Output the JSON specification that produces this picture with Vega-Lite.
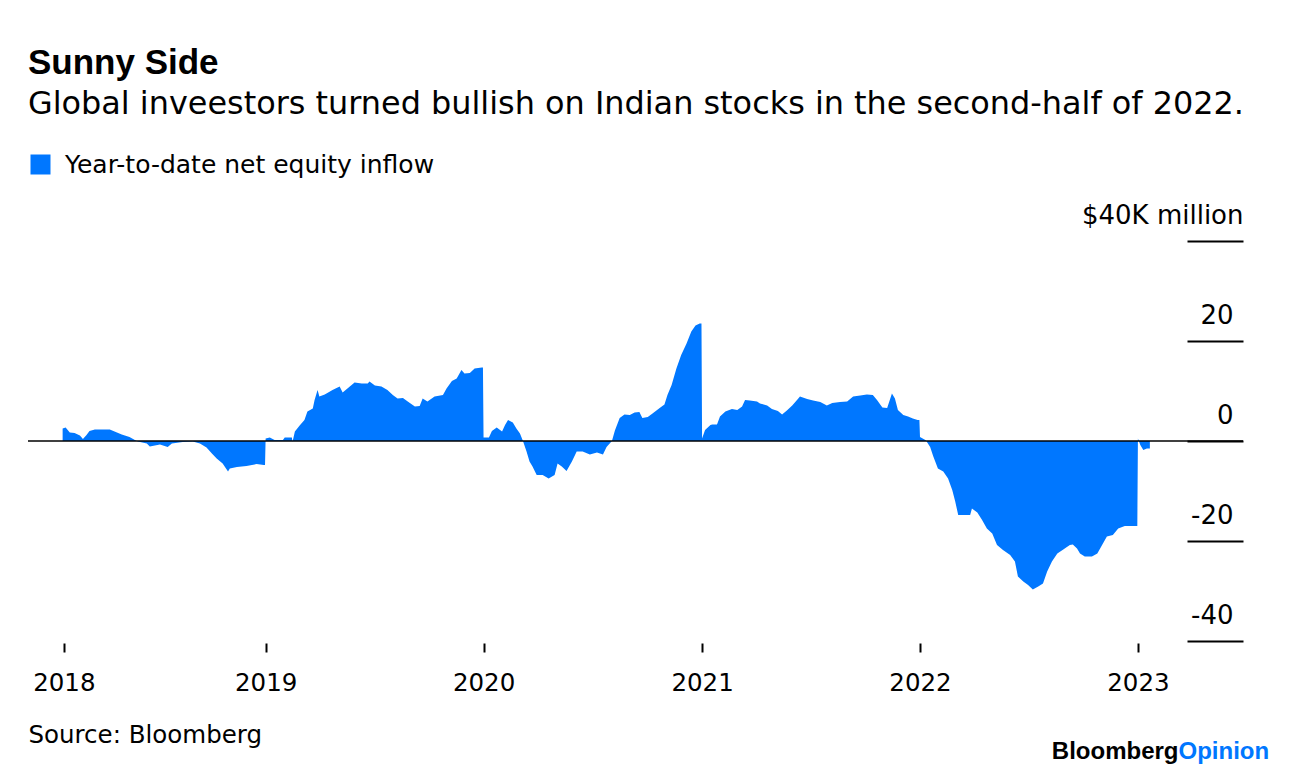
{
  "$schema": "https://vega.github.io/schema/vega-lite/v6.json",
  "width": 1215,
  "height": 400,
  "autosize": {"type": "none"},
  "padding": {"left": 28, "top": 241, "right": 53, "bottom": 135},
  "background": "white",
  "title": {
    "text": "Sunny Side",
    "subtitle": "Global inveestors turned bullish on Indian stocks in the second-half of 2022.",
    "anchor": "start",
    "frame": "group",
    "font": "Liberation Sans",
    "fontSize": 35,
    "fontWeight": "bold",
    "color": "black",
    "subtitleFont": "DejaVu Sans",
    "subtitleFontSize": 31.9,
    "subtitleColor": "black",
    "subtitlePadding": 8,
    "offset": 32
  },
  "layer": [
    {
      "data": {
        "values": [
          {"date": "2018-01-26", "value": 2.5},
          {"date": "2018-01-31", "value": 2.7},
          {"date": "2018-02-07", "value": 1.7},
          {"date": "2018-02-15", "value": 1.6},
          {"date": "2018-02-24", "value": 1.1},
          {"date": "2018-03-01", "value": 0.4},
          {"date": "2018-03-07", "value": 1.2},
          {"date": "2018-03-12", "value": 2.0},
          {"date": "2018-03-21", "value": 2.3},
          {"date": "2018-04-15", "value": 2.3},
          {"date": "2018-04-23", "value": 1.9},
          {"date": "2018-05-05", "value": 1.3},
          {"date": "2018-05-18", "value": 0.8},
          {"date": "2018-05-27", "value": 0.2},
          {"date": "2018-06-01", "value": -0.1},
          {"date": "2018-06-16", "value": -0.5},
          {"date": "2018-06-21", "value": -1.1},
          {"date": "2018-07-08", "value": -0.7},
          {"date": "2018-07-21", "value": -1.2},
          {"date": "2018-07-28", "value": -0.5},
          {"date": "2018-08-15", "value": -0.2},
          {"date": "2018-09-01", "value": -0.1},
          {"date": "2018-09-13", "value": -0.5},
          {"date": "2018-09-24", "value": -1.3},
          {"date": "2018-10-03", "value": -2.5},
          {"date": "2018-10-11", "value": -3.5},
          {"date": "2018-10-21", "value": -4.5},
          {"date": "2018-10-30", "value": -6.1},
          {"date": "2018-11-02", "value": -5.5},
          {"date": "2018-11-14", "value": -5.2},
          {"date": "2018-11-30", "value": -5.0},
          {"date": "2018-12-17", "value": -4.6},
          {"date": "2018-12-29", "value": -4.8},
          {"date": "2018-12-31", "value": -4.8},
          {"date": "2019-01-01", "value": 0.5},
          {"date": "2019-01-08", "value": 0.7},
          {"date": "2019-01-16", "value": 0.2},
          {"date": "2019-01-30", "value": 0.2},
          {"date": "2019-02-02", "value": 0.7},
          {"date": "2019-02-14", "value": 0.7},
          {"date": "2019-02-15", "value": -0.2},
          {"date": "2019-02-19", "value": 1.9},
          {"date": "2019-02-27", "value": 3.1},
          {"date": "2019-03-07", "value": 4.2},
          {"date": "2019-03-12", "value": 5.9},
          {"date": "2019-03-21", "value": 6.5},
          {"date": "2019-03-24", "value": 8.2},
          {"date": "2019-03-29", "value": 10.2},
          {"date": "2019-04-01", "value": 8.9},
          {"date": "2019-04-10", "value": 9.3},
          {"date": "2019-04-23", "value": 10.2},
          {"date": "2019-05-05", "value": 10.9},
          {"date": "2019-05-10", "value": 9.7},
          {"date": "2019-05-18", "value": 10.5},
          {"date": "2019-05-30", "value": 11.7},
          {"date": "2019-06-11", "value": 11.5},
          {"date": "2019-06-21", "value": 11.5},
          {"date": "2019-06-24", "value": 11.9},
          {"date": "2019-07-03", "value": 11.1},
          {"date": "2019-07-14", "value": 10.9},
          {"date": "2019-07-24", "value": 10.2},
          {"date": "2019-08-02", "value": 9.2},
          {"date": "2019-08-10", "value": 8.5},
          {"date": "2019-08-19", "value": 8.6},
          {"date": "2019-08-27", "value": 7.9},
          {"date": "2019-09-08", "value": 6.9},
          {"date": "2019-09-16", "value": 7.0},
          {"date": "2019-09-21", "value": 8.5},
          {"date": "2019-09-29", "value": 7.9},
          {"date": "2019-10-11", "value": 8.9},
          {"date": "2019-10-25", "value": 9.2},
          {"date": "2019-10-31", "value": 10.5},
          {"date": "2019-11-09", "value": 12.0},
          {"date": "2019-11-17", "value": 12.5},
          {"date": "2019-11-25", "value": 14.2},
          {"date": "2019-11-30", "value": 13.5},
          {"date": "2019-12-09", "value": 13.6},
          {"date": "2019-12-17", "value": 14.5},
          {"date": "2019-12-29", "value": 14.7},
          {"date": "2019-12-31", "value": 14.7},
          {"date": "2020-01-01", "value": 0.7},
          {"date": "2020-01-10", "value": 0.7},
          {"date": "2020-01-15", "value": 2.0},
          {"date": "2020-01-23", "value": 2.7},
          {"date": "2020-02-01", "value": 1.9},
          {"date": "2020-02-06", "value": 3.2},
          {"date": "2020-02-11", "value": 4.2},
          {"date": "2020-02-19", "value": 3.7},
          {"date": "2020-02-25", "value": 2.5},
          {"date": "2020-03-02", "value": 1.5},
          {"date": "2020-03-07", "value": 0.0},
          {"date": "2020-03-13", "value": -2.1},
          {"date": "2020-03-18", "value": -4.1},
          {"date": "2020-03-23", "value": -5.1},
          {"date": "2020-03-30", "value": -6.8},
          {"date": "2020-04-09", "value": -6.8},
          {"date": "2020-04-19", "value": -7.5},
          {"date": "2020-04-29", "value": -6.8},
          {"date": "2020-05-04", "value": -4.5},
          {"date": "2020-05-11", "value": -5.1},
          {"date": "2020-05-19", "value": -6.0},
          {"date": "2020-05-28", "value": -4.1},
          {"date": "2020-06-05", "value": -2.1},
          {"date": "2020-06-15", "value": -2.1},
          {"date": "2020-06-27", "value": -2.7},
          {"date": "2020-07-09", "value": -2.3},
          {"date": "2020-07-19", "value": -2.7},
          {"date": "2020-07-25", "value": -1.2},
          {"date": "2020-08-03", "value": 0.0},
          {"date": "2020-08-08", "value": 2.1},
          {"date": "2020-08-16", "value": 4.6},
          {"date": "2020-08-24", "value": 5.3},
          {"date": "2020-09-02", "value": 5.2},
          {"date": "2020-09-10", "value": 5.7},
          {"date": "2020-09-18", "value": 5.8},
          {"date": "2020-09-23", "value": 4.6},
          {"date": "2020-10-02", "value": 4.8},
          {"date": "2020-10-10", "value": 5.5},
          {"date": "2020-10-22", "value": 6.6},
          {"date": "2020-10-30", "value": 7.3},
          {"date": "2020-11-04", "value": 9.2},
          {"date": "2020-11-11", "value": 11.2},
          {"date": "2020-11-19", "value": 14.5},
          {"date": "2020-11-27", "value": 17.2},
          {"date": "2020-12-06", "value": 19.5},
          {"date": "2020-12-14", "value": 21.9},
          {"date": "2020-12-21", "value": 23.1},
          {"date": "2020-12-28", "value": 23.5},
          {"date": "2020-12-31", "value": 23.5},
          {"date": "2021-01-01", "value": 0.5},
          {"date": "2021-01-06", "value": 2.2},
          {"date": "2021-01-15", "value": 3.2},
          {"date": "2021-01-18", "value": 3.3},
          {"date": "2021-01-26", "value": 3.3},
          {"date": "2021-01-31", "value": 4.9},
          {"date": "2021-02-09", "value": 5.9},
          {"date": "2021-02-20", "value": 6.4},
          {"date": "2021-03-01", "value": 6.2},
          {"date": "2021-03-09", "value": 6.9},
          {"date": "2021-03-14", "value": 8.2},
          {"date": "2021-03-22", "value": 8.1},
          {"date": "2021-04-03", "value": 7.9},
          {"date": "2021-04-08", "value": 7.5},
          {"date": "2021-04-20", "value": 7.1},
          {"date": "2021-04-28", "value": 6.4},
          {"date": "2021-05-08", "value": 6.0},
          {"date": "2021-05-15", "value": 5.3},
          {"date": "2021-05-23", "value": 6.1},
          {"date": "2021-06-01", "value": 7.1},
          {"date": "2021-06-09", "value": 8.2},
          {"date": "2021-06-14", "value": 8.9},
          {"date": "2021-06-26", "value": 8.4},
          {"date": "2021-07-06", "value": 8.1},
          {"date": "2021-07-18", "value": 7.8},
          {"date": "2021-07-29", "value": 7.1},
          {"date": "2021-08-07", "value": 7.6},
          {"date": "2021-08-20", "value": 7.8},
          {"date": "2021-09-01", "value": 7.9},
          {"date": "2021-09-11", "value": 8.9},
          {"date": "2021-09-23", "value": 9.1},
          {"date": "2021-10-04", "value": 9.3},
          {"date": "2021-10-14", "value": 9.2},
          {"date": "2021-10-21", "value": 8.2},
          {"date": "2021-10-30", "value": 6.7},
          {"date": "2021-11-07", "value": 6.6},
          {"date": "2021-11-15", "value": 9.5},
          {"date": "2021-11-20", "value": 8.5},
          {"date": "2021-11-25", "value": 6.2},
          {"date": "2021-12-04", "value": 5.2},
          {"date": "2021-12-12", "value": 4.9},
          {"date": "2021-12-20", "value": 4.5},
          {"date": "2021-12-28", "value": 4.2},
          {"date": "2021-12-31", "value": 4.2},
          {"date": "2022-01-01", "value": 0.8},
          {"date": "2022-01-10", "value": 0.2},
          {"date": "2022-01-11", "value": 0.1},
          {"date": "2022-01-18", "value": -1.2},
          {"date": "2022-01-23", "value": -3.0},
          {"date": "2022-01-31", "value": -5.5},
          {"date": "2022-02-09", "value": -6.1},
          {"date": "2022-02-17", "value": -7.5},
          {"date": "2022-02-24", "value": -9.8},
          {"date": "2022-03-01", "value": -12.1},
          {"date": "2022-03-06", "value": -14.8},
          {"date": "2022-03-14", "value": -14.8},
          {"date": "2022-03-26", "value": -14.8},
          {"date": "2022-03-29", "value": -13.5},
          {"date": "2022-04-07", "value": -14.3},
          {"date": "2022-04-15", "value": -15.8},
          {"date": "2022-04-23", "value": -17.5},
          {"date": "2022-05-02", "value": -18.5},
          {"date": "2022-05-10", "value": -20.8},
          {"date": "2022-05-20", "value": -21.8},
          {"date": "2022-06-01", "value": -22.8},
          {"date": "2022-06-09", "value": -24.1},
          {"date": "2022-06-14", "value": -27.1},
          {"date": "2022-06-23", "value": -28.1},
          {"date": "2022-07-01", "value": -28.8},
          {"date": "2022-07-09", "value": -29.7},
          {"date": "2022-07-18", "value": -29.1},
          {"date": "2022-07-26", "value": -28.5},
          {"date": "2022-08-02", "value": -26.1},
          {"date": "2022-08-10", "value": -24.1},
          {"date": "2022-08-19", "value": -22.5},
          {"date": "2022-08-29", "value": -21.7},
          {"date": "2022-09-09", "value": -20.8},
          {"date": "2022-09-14", "value": -20.7},
          {"date": "2022-09-21", "value": -21.5},
          {"date": "2022-09-26", "value": -22.5},
          {"date": "2022-10-04", "value": -23.1},
          {"date": "2022-10-16", "value": -23.1},
          {"date": "2022-10-25", "value": -22.5},
          {"date": "2022-11-02", "value": -20.8},
          {"date": "2022-11-10", "value": -19.1},
          {"date": "2022-11-20", "value": -18.8},
          {"date": "2022-11-29", "value": -17.5},
          {"date": "2022-12-10", "value": -17.0},
          {"date": "2022-12-27", "value": -17.0},
          {"date": "2022-12-31", "value": -17.0},
          {"date": "2023-01-01", "value": 0.5},
          {"date": "2023-01-05", "value": -0.8},
          {"date": "2023-01-10", "value": -1.8},
          {"date": "2023-01-16", "value": -1.5},
          {"date": "2023-01-21", "value": -1.5}
        ]
      },
      "mark": {"type": "area", "interpolate": "linear", "opacity": 1},
      "encoding": {
        "x": {
          "field": "date",
          "type": "temporal",
          "scale": {
            "type": "utc",
            "domain": [
              {"year": 2017, "month": 11, "date": 29, "utc": true},
              {"year": 2023, "month": 6, "date": 26, "utc": true}
            ]
          },
          "axis": {
            "orient": "bottom",
            "values": [
              {"year": 2018, "month": 1, "date": 28, "utc": true},
              {"year": 2019, "month": 1, "date": 1, "utc": true},
              {"year": 2020, "month": 1, "date": 1, "utc": true},
              {"year": 2021, "month": 1, "date": 1, "utc": true},
              {"year": 2022, "month": 1, "date": 1, "utc": true},
              {"year": 2023, "month": 1, "date": 1, "utc": true}
            ],
            "format": "%Y",
            "domain": false,
            "grid": false,
            "ticks": true,
            "tickSize": 9,
            "tickWidth": 2,
            "tickColor": "black",
            "offset": 2,
            "labelFlush": false,
            "labelFont": "DejaVu Sans",
            "labelFontSize": 24.5,
            "labelColor": "black",
            "labelBaseline": "alphabetic",
            "labelPadding": 38,
            "title": "Source: Bloomberg",
            "titleFont": "DejaVu Sans",
            "titleFontSize": 24.5,
            "titleFontWeight": "normal",
            "titleColor": "black",
            "titleAnchor": "start",
            "titleAlign": "left",
            "titlePadding": 29
          }
        },
        "y": {
          "field": "value",
          "type": "quantitative",
          "scale": {"domain": [-40, 40], "nice": false, "zero": false},
          "axis": {
            "orient": "right",
            "values": [-40, -20, 0, 20, 40],
            "domain": false,
            "grid": false,
            "ticks": true,
            "tickSize": -56,
            "tickWidth": 1.8,
            "tickColor": "black",
            "labelAlign": "right",
            "labelBaseline": "alphabetic",
            "labelOffset": -18,
            "labelPadding": {"condition": {"test": "datum.value == 40", "value": 56}, "value": 46},
            "labelFont": "DejaVu Sans",
            "labelFontSize": 26,
            "labelColor": "black",
            "labelExpr": "datum.value == 40 ? '$40K million' : (datum.value < 0 ? '-' + abs(datum.value) : '' + datum.value)",
            "title": null
          }
        },
        "color": {
          "datum": "Year-to-date net equity inflow",
          "type": "nominal",
          "scale": {"range": ["#0077ff"]},
          "legend": {
            "title": null,
            "orient": "top",
            "direction": "horizontal",
            "symbolType": "square",
            "symbolSize": 400,
            "symbolStrokeWidth": 0,
            "symbolOpacity": 1,
            "labelFont": "DejaVu Sans",
            "labelFontSize": 25,
            "labelColor": "black",
            "labelOffset": 12,
            "labelLimit": 0,
            "offset": 63
          }
        }
      }
    },
    {
      "data": {"values": [{"baseline": 0}]},
      "mark": {"type": "rule", "color": "black", "strokeWidth": 1.5},
      "encoding": {"y": {"field": "baseline", "type": "quantitative"}}
    },
    {
      "data": {"values": [{"brand": "Bloomberg"}]},
      "mark": {"type": "text", "align": "right", "baseline": "alphabetic", "font": "Liberation Sans", "fontWeight": "bold", "fontSize": 24, "color": "black"},
      "encoding": {
        "x": {"datum": {"year": 2023, "month": 3, "date": 10, "utc": true}, "type": "temporal"},
        "y": {"datum": -63.6, "type": "quantitative"},
        "text": {"field": "brand"}
      }
    },
    {
      "data": {"values": [{"brand": "Opinion"}]},
      "mark": {"type": "text", "align": "left", "baseline": "alphabetic", "font": "Liberation Sans", "fontWeight": "bold", "fontSize": 24, "color": "#0077ff"},
      "encoding": {
        "x": {"datum": {"year": 2023, "month": 3, "date": 10, "utc": true}, "type": "temporal"},
        "y": {"datum": -63.6, "type": "quantitative"},
        "text": {"field": "brand"}
      }
    }
  ],
  "config": {
    "view": {"stroke": null}
  }
}
